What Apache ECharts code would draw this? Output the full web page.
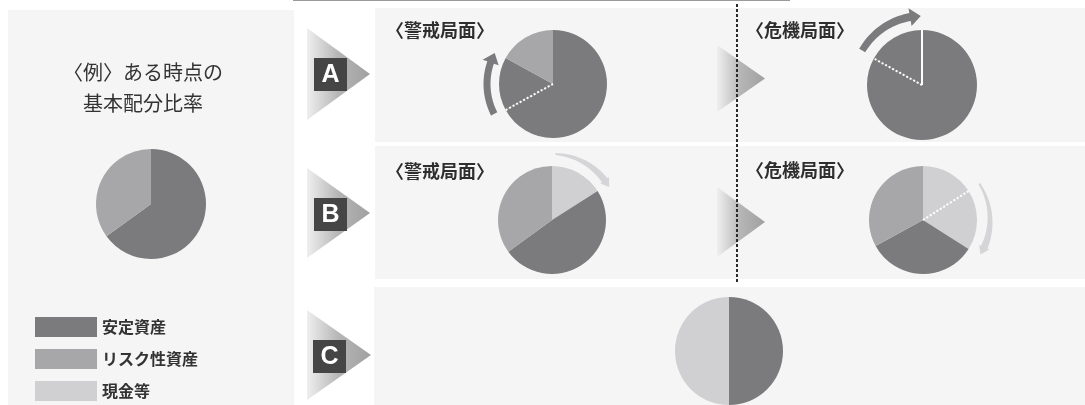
<!DOCTYPE html>
<html lang="ja">
<head>
    <title>基本配分比率と局面ごとの変化</title>
    <meta charset="utf-8" />
    <script src="https://cdn.jsdelivr.net/npm/echarts@6/dist/echarts.min.js"></script>
    <style>
        html, body { margin: 0; padding: 0; background: #fff; }
        #main { width: 1085px; height: 405px; }
    </style>
</head>
<body>
<div id="main"></div>
<script>
    // 資産区分と色
    let assetNames = ['安定資産', 'リスク性資産', '現金等']
    let assetColors = ['#7b7b7d', '#a7a7a9', '#d0d0d2']

    // 各円グラフの構成比(%)、kind は assetNames の番号
    let basePie = [65, 35]
    let baseKind = [0, 1]
    let aAlertPie = [67, 16, 17]
    let aAlertKind = [0, 0, 1]
    let aCrisisPie = [83, 17]
    let aCrisisKind = [0, 0]
    let bAlertPie = [16, 49, 35]
    let bAlertKind = [2, 0, 1]
    let bCrisisPie = [16, 18, 33, 33]
    let bCrisisKind = [2, 2, 0, 1]
    let cPie = [50, 50]
    let cKind = [0, 2]

    // 文字
    let titleLines = ['〈例〉ある時点の', '基本配分比率']
    let rowLetters = ['A', 'B', 'C']
    let phaseLabels = ['〈警戒局面〉', '〈危機局面〉']

    let jpFont = '"Noto Sans CJK JP", "Noto Sans", sans-serif'

    let chart = echarts.init(document.getElementById('main'), null, { renderer: 'canvas' })

    function pieSeries(values, kinds, center, r) {
        return {
            type: 'pie',
            center: center,
            radius: r,
            startAngle: 90,
            clockwise: true,
            silent: true,
            z: 2,
            label: { show: false },
            labelLine: { show: false },
            emphasis: { disabled: true },
            itemStyle: { borderWidth: 0 },
            data: values.map(function (v, i) {
                return { value: v, name: assetNames[kinds[i]], itemStyle: { color: assetColors[kinds[i]] } }
            })
        }
    }

    function pt(cx, cy, r, deg) {
        let t = deg * Math.PI / 180
        return [cx + r * Math.sin(t), cy - r * Math.cos(t)]
    }

    // 円の区切り線 (値から角度を計算)
    function separator(values, at, center, r, dashed) {
        let total = values.reduce(function (a, b) { return a + b }, 0)
        let sum = 0
        for (let i = 0; i < at; i++) sum += values[i]
        let p = pt(center[0], center[1], r, sum / total * 360)
        return {
            type: 'line', z: 20, silent: true,
            shape: { x1: center[0], y1: center[1], x2: p[0], y2: p[1] },
            style: { stroke: '#fff', lineWidth: 2, lineDash: dashed ? [2, 2] : null }
        }
    }

    // 弧の矢印
    function arcArrow(cx, cy, r, a0, a1, head, w0, w1, hw, color) {
        let dir = a1 > a0 ? 1 : -1
        let aBody = a1 - dir * head
        let outer = [], inner = []
        let n = 30
        for (let i = 0; i <= n; i++) {
            let a = a0 + (aBody - a0) * i / n
            let w = w0 + (w1 - w0) * i / n
            outer.push(pt(cx, cy, r + dir * w / 2, a))
            inner.push(pt(cx, cy, r - dir * w / 2, a))
        }
        let pts = outer.concat([
            pt(cx, cy, r + dir * hw, aBody),
            pt(cx, cy, r, a1),
            pt(cx, cy, r - dir * hw, aBody)
        ]).concat(inner.reverse())
        return { type: 'polygon', z: 15, silent: true, shape: { points: pts }, style: { fill: color } }
    }

    function triangle(x0, y0, x1, y1) {
        return {
            type: 'polygon', z: 1, silent: true,
            shape: { points: [[x0, y0], [x1, (y0 + y1) / 2], [x0, y1]] },
            style: {
                fill: new echarts.graphic.LinearGradient(0, 0, 1, 0, [
                    { offset: 0, color: '#efefef' },
                    { offset: 0.5, color: '#b5b5b5' },
                    { offset: 1, color: '#a0a0a0' }
                ])
            }
        }
    }

    function letterBox(x, y, letter) {
        return [
            { type: 'rect', z: 3, silent: true, shape: { x: x, y: y, width: 33, height: 33 }, style: { fill: '#454545' } },
            {
                type: 'text', z: 4, silent: true, x: x + 16.5, y: y + 17.5,
                style: { text: letter, fill: '#fff', fontSize: 25, fontWeight: 'bold', fontFamily: 'Liberation Sans, sans-serif', align: 'center', verticalAlign: 'middle' }
            }
        ]
    }

    function label(x, y, text, size, weight) {
        return {
            type: 'text', z: 10, silent: true, x: x, y: y,
            style: { text: text, fill: '#2e2e2e', fontSize: size, fontWeight: weight, fontFamily: jpFont, align: 'left', verticalAlign: 'middle' }
        }
    }

    let cBase = [151, 204], cAA = [553, 84], cAC = [922, 85], cBA = [552, 220], cBC = [923, 220], cC = [729, 351]
    let R = 54

    let graphics = [
        // 背景パネル
        { type: 'rect', z: 0, silent: true, shape: { x: 8, y: 10, width: 286, height: 400 }, style: { fill: '#f5f5f5' } },
        { type: 'rect', z: 0, silent: true, shape: { x: 375, y: 8, width: 710, height: 134 }, style: { fill: '#f5f5f5' } },
        { type: 'rect', z: 0, silent: true, shape: { x: 375, y: 146, width: 710, height: 133 }, style: { fill: '#f5f5f5' } },
        { type: 'rect', z: 0, silent: true, shape: { x: 374, y: 287, width: 711, height: 120 }, style: { fill: '#f5f5f5' } },
        { type: 'line', z: 1, silent: true, shape: { x1: 293, y1: 0.5, x2: 790, y2: 0.5 }, style: { stroke: '#9a9a9a', lineWidth: 1 } },

        // タイトル
        {
            type: 'text', z: 10, silent: true, x: 143, y: 72,
            style: { text: titleLines[0], fill: '#333', fontSize: 20, fontFamily: jpFont, align: 'center', verticalAlign: 'middle' }
        },
        {
            type: 'text', z: 10, silent: true, x: 143, y: 103,
            style: { text: titleLines[1], fill: '#333', fontSize: 20, fontFamily: jpFont, align: 'center', verticalAlign: 'middle' }
        },

        // 三角と記号
        triangle(307, 28, 370, 120),
        triangle(307, 168, 370, 258),
        triangle(307, 310, 371, 400),
        triangle(717, 45, 765, 112),
        triangle(717, 187, 765, 257),

        // 局面ラベル
        label(386, 30, phaseLabels[0], 18, 'bold'),
        label(746, 30, phaseLabels[1], 18, 'bold'),
        label(386, 171, phaseLabels[0], 18, 'bold'),
        label(746, 170, phaseLabels[1], 18, 'bold'),

        // 区切りの点線
        {
            type: 'line', z: 12, silent: true,
            shape: { x1: 737, y1: 4, x2: 737, y2: 284 },
            style: { stroke: '#2a2a2a', lineWidth: 2, lineDash: [3, 2] }
        },

        // 矢印
        arcArrow(cAA[0], cAA[1], 66, 243, 298, 9, 7, 7, 8.5, '#7b7b7d'),
        arcArrow(cAC[0], cAC[1], 69, 300, 359, 9, 7, 8, 9, '#7b7b7d'),
        arcArrow(cBA[0], cBA[1], 66, 3, 60, 7, 2, 7, 5.5, '#d5d5d7'),
        arcArrow(cBC[0], cBC[1], 67, 57, 121, 7, 2, 7, 5.5, '#d5d5d7'),

        // 円の区切り
        separator(aAlertPie, 1, cAA, R, true),
        separator(aCrisisPie, 0, cAC, R + 1, false),
        separator(aCrisisPie, 1, cAC, R + 1, true),
        separator(bCrisisPie, 1, cBC, R, true)
    ]
    graphics = graphics
        .concat(letterBox(314, 58, rowLetters[0]))
        .concat(letterBox(314, 198, rowLetters[1]))
        .concat(letterBox(313, 340, rowLetters[2]))

    chart.setOption({
        animation: false,
        backgroundColor: '#ffffff',
        legend: {
            data: assetNames,
            orient: 'vertical',
            left: 35,
            top: 317,
            padding: 0,
            height: 90,
            itemWidth: 62,
            itemHeight: 20,
            itemGap: 12,
            icon: 'rect',
            selectedMode: false,
            textStyle: { fontSize: 16, fontWeight: 'bold', color: '#333', fontFamily: jpFont }
        },
        graphic: { elements: graphics },
        series: [
            pieSeries(basePie, baseKind, cBase, 55),
            pieSeries(aAlertPie, aAlertKind, cAA, R),
            pieSeries(aCrisisPie, aCrisisKind, cAC, R + 1),
            pieSeries(bAlertPie, bAlertKind, cBA, R),
            pieSeries(bCrisisPie, bCrisisKind, cBC, R),
            pieSeries(cPie, cKind, cC, R)
        ]
    })
</script>
</body>
</html>
